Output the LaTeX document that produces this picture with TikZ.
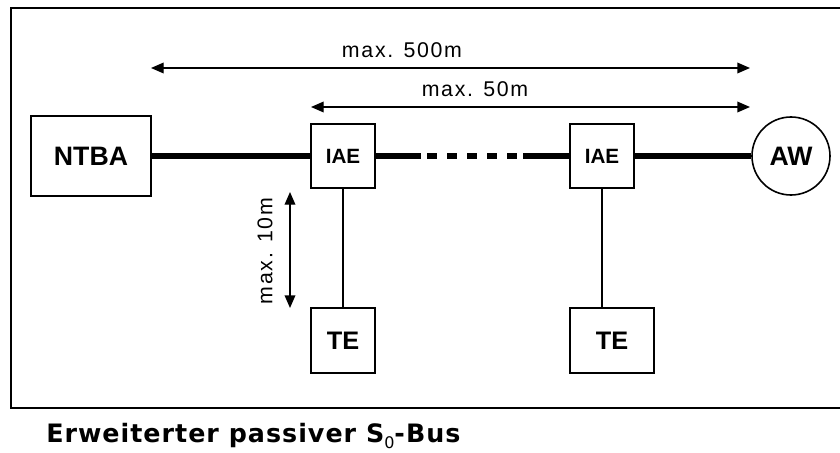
\documentclass[tikz,border=0pt]{standalone}
\usepackage{fontspec}
\setmainfont{Liberation Sans}
\newfontfamily\labelfont[LetterSpace=8]{Liberation Sans}
\newfontfamily\capfont[LetterSpace=4]{DejaVu Sans}
\usetikzlibrary{arrows.meta}

\begin{document}
\begin{tikzpicture}[
x=0.75pt, y=-0.75pt,
box/.style={draw, line width=1.2pt, inner sep=0pt, font=\bfseries\fontsize{20}{20}\selectfont},
small/.style={box, minimum width=48pt, minimum height=48pt},
bus/.style={line width=4.5pt},
stub/.style={line width=1.2pt},
arr/.style={{Triangle[length=9.5pt,width=8pt]}-{Triangle[length=9.5pt,width=8pt]}, line width=1pt},
lab/.style={font=\labelfont\fontsize{16}{16}\selectfont, inner sep=0pt}
]
\useasboundingbox (0,0) rectangle (840,453);
% frame, open on the right
\draw[line width=1.2pt] (840,8) -- (11,8) -- (11,408) -- (840,408);

\node[box, minimum width=90pt, minimum height=60pt] (ntba) at (91,156) {NTBA};
\node[small, font=\bfseries\fontsize{15.5}{15.5}\selectfont] (iae1) at (343,156) {IAE};
\node[small, font=\bfseries\fontsize{15.5}{15.5}\selectfont] (iae2) at (602,156) {IAE};
\node[box, circle, minimum size=58.5pt] (aw) at (791,156) {AW};
\node[small, minimum height=48.75pt, font=\bfseries\fontsize{19}{19}\selectfont] (te1) at (343,340.5) {TE};
\node[small, minimum width=63pt, minimum height=48.75pt, font=\bfseries\fontsize{19}{19}\selectfont] (te2) at (612,340.5) {TE};

% bus
\coordinate (d1) at (421,156);
\coordinate (d2) at (523,156);
\draw[bus] (ntba) -- (iae1);
\draw[bus] (iae1) -- (d1);
\draw[bus, dash pattern=on 7.5pt off 7.5pt, dash phase=10.5pt] (d1) -- (d2);
\draw[bus] (d2) -- (iae2);
\draw[bus] (iae2) -- (aw);
\draw[stub] (iae1) -- (te1);
\draw[stub] (iae2.south) -- (iae2.south |- te2.north);

% lengths
\coordinate (l500a) at (151,68);
\coordinate (l500b) at (750,68);
\coordinate (l50a) at (311,107);
\coordinate (l50b) at (750,107);
\coordinate (l10a) at (290,192);
\coordinate (l10b) at (290,308);
\draw[arr] (l500a) -- (l500b);
\draw[arr] (l50a) -- (l50b);
\draw[arr] (l10a) -- (l10b);
\node[lab] (t500) at (402,50) {max. 500m};
\node[lab] (t50) at (475,89) {max. 50m};
\node[lab, rotate=90] (t10) at (265,251) {max. 10m};

\node[anchor=base west, inner sep=0pt, font=\capfont\bfseries\fontsize{19}{19}\selectfont] (cap) at (46,442) {Erweiterter passiver S\raisebox{-0.45ex}{\mdseries\fontsize{12}{12}\selectfont 0}-Bus};
\end{tikzpicture}
\end{document}
